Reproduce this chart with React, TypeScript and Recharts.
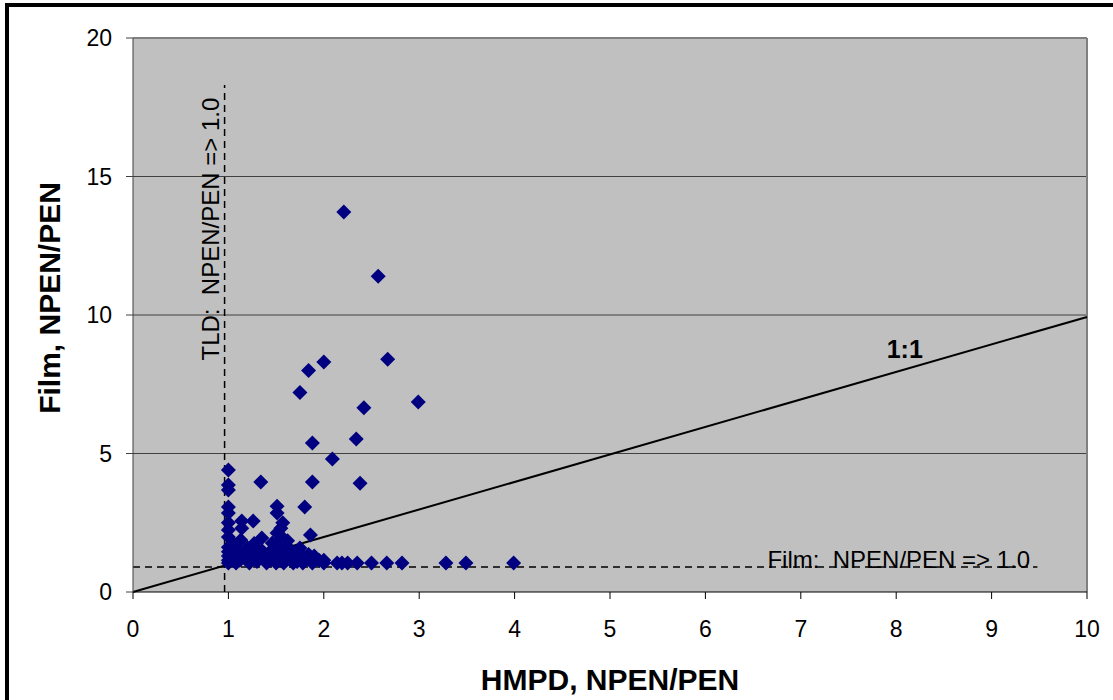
import React from 'react';
import {
  ScatterChart,
  Scatter,
  XAxis,
  YAxis,
  CartesianGrid,
  ReferenceLine,
  ReferenceDot,
} from 'recharts';

// Tick values
const xTicks = [0, 1, 2, 3, 4, 5, 6, 7, 8, 9, 10];
const yTicks = [0, 5, 10, 15, 20];

// Upper scattered points (HMPD, Film)
const upperHmpd = [1.75, 1.84, 2.0, 2.21, 2.57, 2.67, 2.42, 2.99, 1.88, 2.34, 2.09, 1.88, 2.38, 1.8, 1.86];
const upperFilm = [7.2, 8.0, 8.3, 13.72, 11.4, 8.4, 6.65, 6.86, 5.38, 5.52, 4.8, 3.97, 3.93, 3.07, 2.06];

// Column of points at HMPD = 1.0
const columnHmpd = [1.0, 1.0, 1.0, 1.0, 1.0, 1.0, 1.0, 1.0, 1.0, 1.0, 1.0, 1.0, 1.0];
const columnFilm = [4.4, 3.86, 3.68, 3.07, 2.85, 2.5, 2.24, 1.99, 1.62, 1.45, 1.3, 1.15, 1.05];

// Dense cluster
const clusterHmpd = [1.06, 1.08, 1.1, 1.13, 1.14, 1.14, 1.18, 1.2, 1.22, 1.26, 1.25, 1.3, 1.34, 1.35, 1.35, 1.38, 1.4, 1.42, 1.46, 1.48, 1.5, 1.51, 1.51, 1.51, 1.52, 1.55, 1.57, 1.56, 1.58, 1.6, 1.62, 1.65, 1.68, 1.7, 1.75, 1.75, 1.78, 1.8, 1.9, 1.88, 2.0, 1.27, 1.05, 1.5, 1.55, 1.62, 1.12, 1.16, 1.28, 1.32, 1.44, 1.66, 1.72, 1.84, 1.95, 1.03];
const clusterFilm = [1.3, 1.05, 1.5, 1.88, 2.3, 2.56, 1.2, 1.6, 1.05, 2.56, 1.35, 1.1, 3.97, 1.95, 1.5, 1.2, 1.05, 1.4, 1.77, 1.2, 1.05, 3.1, 2.85, 2.13, 1.5, 1.3, 2.5, 1.99, 1.05, 1.59, 1.2, 1.35, 1.05, 1.25, 1.59, 1.4, 1.05, 1.2, 1.3, 1.05, 1.15, 1.75, 1.75, 1.7, 2.3, 1.85, 1.15, 1.35, 1.25, 1.45, 1.15, 1.5, 1.1, 1.35, 1.15, 1.55];

// Bottom row (Film ~ 1.0)
const bottomHmpd = [2.0, 2.14, 2.19, 2.25, 2.35, 2.5, 2.66, 2.82, 3.28, 3.49, 3.99];
const bottomFilm = [1.05, 1.05, 1.05, 1.05, 1.05, 1.05, 1.05, 1.05, 1.05, 1.05, 1.05];

const zip = (xs: number[], ys: number[]) => xs.map((x, i) => ({ x, y: ys[i] }));
const points = [
  ...zip(columnHmpd, columnFilm),
  ...zip(clusterHmpd, clusterFilm),
  ...zip(bottomHmpd, bottomFilm),
  ...zip(upperHmpd, upperFilm),
];

const FONT = 'Arial, "Liberation Sans", sans-serif';

const Diamond = (props: any) => {
  const { cx, cy } = props;
  const r = 7.5;
  return (
    <polygon
      points={`${cx},${cy - r} ${cx + r},${cy} ${cx},${cy + r} ${cx - r},${cy}`}
      fill="#000080"
    />
  );
};

const OneToOneLabel = (props: any) => (
  <text x={props.cx} y={props.cy} textAnchor="middle" dy="0.36em" fontFamily={FONT} fontSize={25} fontWeight="bold" fill="#000">
    1:1
  </text>
);

const TldLabel = (props: any) => (
  <text
    x={props.cx}
    y={props.cy}
    textAnchor="middle"
    dy="0.36em"
    transform={`rotate(-90, ${props.cx}, ${props.cy})`}
    fontFamily={FONT}
    fontSize={24}
    fill="#000"
    style={{ whiteSpace: 'pre' }}
  >
    {'TLD:  NPEN/PEN => 1.0'}
  </text>
);

const FilmLabel = (props: any) => (
  <text x={props.cx} y={props.cy} textAnchor="start" fontFamily={FONT} fontSize={24} fill="#000" style={{ whiteSpace: 'pre' }}>
    {'Film:  NPEN/PEN => 1.0'}
  </text>
);

export default function App() {
  return (
    <div style={{ position: 'absolute', left: 0, top: 0, width: 1113, height: 700, overflow: 'hidden', background: '#fff' }}>
      <div
        style={{
          position: 'absolute',
          left: 5,
          top: 3,
          width: 1300,
          height: 900,
          borderLeft: '4px solid #000',
          borderTop: '4px solid #000',
        }}
      />
      <div style={{ position: 'absolute', left: 0, top: 0 }}>
        <ScatterChart width={1113} height={700} margin={{ top: 38, right: 26, bottom: 0, left: 0 }}>
          <CartesianGrid
            horizontal={true}
            vertical={false}
            horizontalValues={[5, 10, 15]}
            stroke="#404040"
            strokeWidth={1}
            fill="#C0C0C0"
            fillOpacity={1}
          />
          <XAxis
            type="number"
            dataKey="x"
            domain={[0, 10]}
            ticks={xTicks}
            interval={0}
            height={108}
            tickSize={7}
            tickMargin={22}
            stroke="#000"
            tick={{ fontFamily: FONT, fontSize: 23, fill: '#000' }}
            label={{
              content: () => (
                <text x={610} y={690} textAnchor="middle" fontFamily={FONT} fontSize={30} fontWeight="bold" fill="#000">
                  HMPD, NPEN/PEN
                </text>
              ),
            }}
          />
          <YAxis
            type="number"
            dataKey="y"
            domain={[0, 20]}
            ticks={yTicks}
            interval={0}
            width={133}
            tickSize={7}
            tickMargin={14}
            stroke="#404040"
            tick={{ fontFamily: FONT, fontSize: 23, fill: '#000' }}
            label={{
              content: () => (
                <text
                  x={49}
                  y={298}
                  textAnchor="middle"
                  dy="0.36em"
                  transform="rotate(-90, 49, 298)"
                  fontFamily={FONT}
                  fontSize={30}
                  fontWeight="bold"
                  fill="#000"
                >
                  Film, NPEN/PEN
                </text>
              ),
            }}
          />
          <ReferenceLine y={20} stroke="#808080" strokeWidth={2} />
          <ReferenceLine x={10} stroke="#808080" strokeWidth={2} />
          <Scatter data={points} shape={<Diamond />} isAnimationActive={false} />
          <ReferenceLine
            segment={[{ x: 0.96, y: 0 }, { x: 0.96, y: 18.3 }]}
            stroke="#000"
            strokeWidth={1.5}
            strokeDasharray="7 5"
          />
          <ReferenceLine
            segment={[{ x: 0, y: 0.9 }, { x: 9.48, y: 0.9 }]}
            stroke="#000"
            strokeWidth={1.5}
            strokeDasharray="7 5"
          />
          <ReferenceLine
            segment={[{ x: 0, y: 0 }, { x: 10, y: 9.93 }]}
            stroke="#000"
            strokeWidth={2}
          />
          <ReferenceDot x={8.09} y={8.77} r={0} shape={<OneToOneLabel />} />
          <ReferenceDot x={0.81} y={13.1} r={0} shape={<TldLabel />} />
          <ReferenceDot x={6.65} y={0.87} r={0} shape={<FilmLabel />} />
        </ScatterChart>
      </div>
    </div>
  );
}
